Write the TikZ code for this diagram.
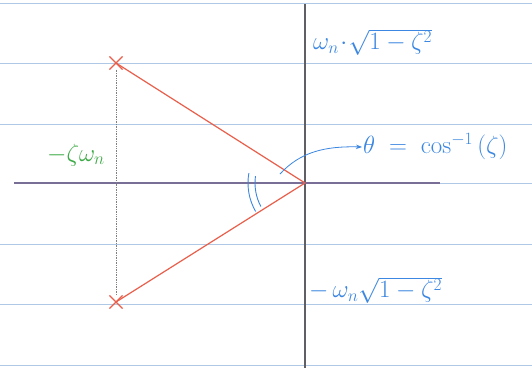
\documentclass[tikz,border=0pt]{standalone}
\usetikzlibrary{shapes.misc,arrows.meta}
\definecolor{rule}{RGB}{175,200,230}
\definecolor{axisgray}{RGB}{95,95,100}
\definecolor{axispurple}{RGB}{120,110,150}
\definecolor{polered}{RGB}{232,95,75}
\definecolor{inkblue}{RGB}{60,135,225}
\definecolor{inkgreen}{RGB}{60,170,70}
\begin{document}
\begin{tikzpicture}[x=1pt,y=-1pt,
  ruled/.style={rule,line width=1pt},
  axisline/.style={axisgray,line width=1.1pt},
  realaxis/.style={axispurple,line width=1.3pt},
  pole/.style={cross out,draw=polered,line width=1.2pt,minimum size=12pt,inner sep=0pt},
  polar/.style={polered,line width=1.2pt},
  guide/.style={gray,line width=0.7pt,densely dotted},
  bluelabel/.style={inkblue,inner sep=1pt},
  greenlabel/.style={inkgreen,inner sep=1pt},
  anglemark/.style={inkblue,line width=0.9pt}]
\useasboundingbox (0,0) rectangle (532,370);
\fill[white] (0,0) rectangle (532,370);
% ruled paper
\foreach \yy in {3,63,124,244,304,365} \draw[ruled] (0,\yy) -- (532,\yy);
\draw[ruled] (440,183) -- (532,183);
% axes
\coordinate (top) at (305,4);
\coordinate (bot) at (305,368);
\coordinate (left) at (14,183);
\coordinate (right) at (440,183);
\coordinate (O) at (305,183);
\draw[axisline] (top) -- (bot);
\draw[realaxis] (left) -- (right);
% poles
\node[pole] (p1) at (116,63) {};
\node[pole] (p2) at (116,302) {};
\draw[guide] (p1) -- (p2);
\draw[polar] (O) -- (p1.center);
\draw[polar] (O) -- (p2.center);
% angle arcs
\draw[anglemark] ([shift={(150:57)}]O) arc[start angle=150,end angle=190,radius=57];
\draw[anglemark] ([shift={(152:50)}]O) arc[start angle=152,end angle=188,radius=50];
% labels
\node[bluelabel,anchor=west,font=\fontsize{23}{26}\selectfont] (wd) at (312,42) {$\omega_n\!\cdot\!\sqrt{1-\zeta^2}$};
\node[bluelabel,anchor=west,font=\fontsize{24}{28}\selectfont] (th) at (362,147) {$\theta\;=\;\cos^{-1}\,(\zeta)$};
\node[bluelabel,anchor=west,font=\fontsize{25}{29}\selectfont] (mwd) at (308,290) {$-\,\omega_n\sqrt{1-\zeta^2}$};
\node[greenlabel,anchor=west,font=\fontsize{26}{30}\selectfont] (zw) at (46,155) {$-\zeta\omega_n$};
\coordinate (arrstart) at (280,174);
\draw[inkblue,line width=0.8pt,-{Stealth[length=6pt]}] (arrstart) .. controls (300,152) and (325,146) .. (th.west);
\end{tikzpicture}
\end{document}
